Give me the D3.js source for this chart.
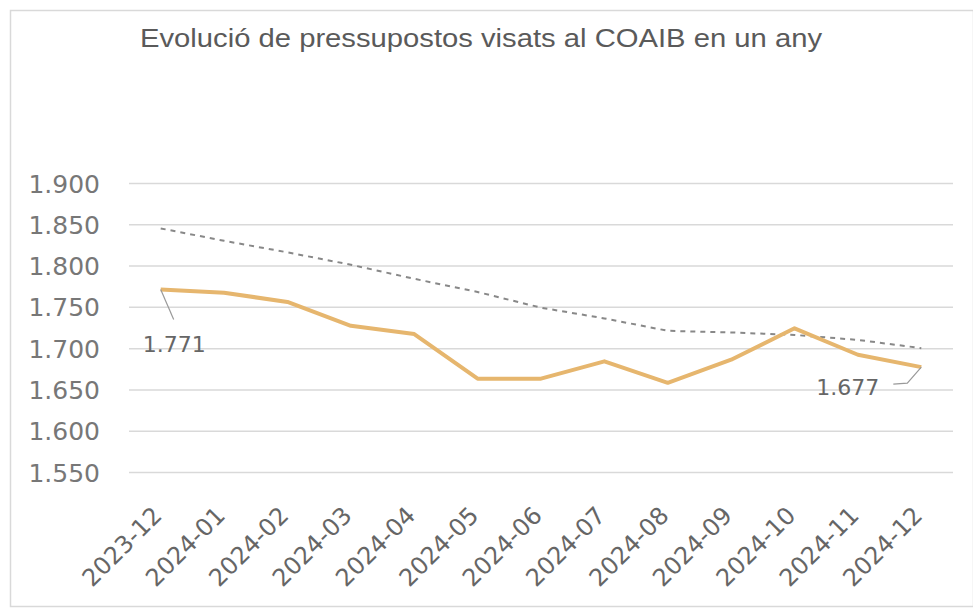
<!DOCTYPE html>
<html>
<head>
<meta charset="utf-8">
<script src="https://cdn.jsdelivr.net/npm/d3@7"></script>
<style>
  body { margin: 0; background: #fff; }
  text { font-family: "DejaVu Sans", sans-serif; }
</style>
</head>
<body>
<div id="chart"></div>
<script>
const width = 973
const height = 611

// data
const months = ['2023-12', '2024-01', '2024-02', '2024-03', '2024-04', '2024-05', '2024-06',
  '2024-07', '2024-08', '2024-09', '2024-10', '2024-11', '2024-12']
const visats = [1.771, 1.767, 1.756, 1.727, 1.717, 1.663, 1.663, 1.684, 1.658, 1.686, 1.724, 1.692, 1.677]
const trend = [1.845, 1.830, 1.816, 1.801, 1.784, 1.768, 1.749, 1.736, 1.721, 1.719, 1.716, 1.710, 1.700]
const yTicks = [1.55, 1.6, 1.65, 1.7, 1.75, 1.8, 1.85, 1.9]
const title = 'Evolució de pressupostos visats al COAIB en un any'

const margin = { left: 129, right: 20, top: 183, bottom: 139 }

const svg = d3.select('#chart')
  .append('svg')
  .attr('width', width)
  .attr('height', height)

// outer frame
svg.append('rect')
  .attr('x', 10.5).attr('y', 10.5)
  .attr('width', width - 10).attr('height', 596)
  .attr('fill', 'none')
  .attr('stroke', '#d9d9d9')
  .attr('stroke-width', 1.5)

const x = d3.scalePoint()
  .domain(months)
  .range([margin.left, width - margin.right])
  .padding(0.5)

const y = d3.scaleLinear()
  .domain([1.55, 1.9])
  .range([height - margin.bottom, margin.top])

svg.append('text')
  .attr('x', 140)
  .attr('y', 47)
  .attr('textLength', 682)
  .attr('lengthAdjust', 'spacingAndGlyphs')
  .style('font-family', '"Liberation Sans", sans-serif')
  .style('font-size', '25px')
  .attr('fill', '#5a5a5a')
  .text(title)

// grid + y labels
const yAxis = svg.append('g')
  .attr('transform', `translate(${margin.left},0)`)
  .call(d3.axisLeft(y)
    .tickValues(yTicks)
    .tickSize(-(width - margin.left - margin.right))
    .tickPadding(29)
    .tickFormat(d => d3.format('.3f')(d)))
yAxis.select('.domain').remove()
yAxis.selectAll('.tick line')
  .attr('stroke', '#d9d9d9')
  .attr('stroke-width', 1.5)
yAxis.selectAll('.tick text')
  .attr('fill', '#777')
  .style('font-size', '25px')
  .attr('dy', '0.36em')

// x labels
const xAxis = svg.append('g')
  .attr('transform', `translate(0,${height - margin.bottom})`)
  .call(d3.axisBottom(x).tickSize(0).tickPadding(0))
xAxis.select('.domain').remove()
xAxis.selectAll('.tick text')
  .attr('fill', '#666')
  .style('font-size', '24px')
  .attr('text-anchor', 'end')
  .attr('dy', 0)
  .attr('transform', 'translate(2,45) rotate(-45)')

// trend line (dashed)
const line = d3.line()
  .x((d, i) => x(months[i]))
  .y(d => y(d))

svg.append('path')
  .datum(trend)
  .attr('d', line)
  .attr('fill', 'none')
  .attr('stroke', '#888')
  .attr('stroke-width', 2)
  .attr('stroke-dasharray', '5,5')

svg.append('path')
  .datum(visats)
  .attr('d', line)
  .attr('fill', 'none')
  .attr('stroke', '#e6b66e')
  .attr('stroke-width', 4)
  .attr('stroke-linejoin', 'round')

// data labels with leader lines
const first = { x: x(months[0]), y: y(visats[0]) }
const last = { x: x(months[12]), y: y(visats[12]) }

svg.append('path')
  .attr('d', `M${first.x},${first.y} L${first.x + 13},${first.y + 30}`)
  .attr('stroke', '#999').attr('stroke-width', 1.2).attr('fill', 'none')
svg.append('text')
  .attr('x', first.x - 18)
  .attr('y', first.y + 62)
  .attr('fill', '#666')
  .style('font-size', '22px')
  .text(d3.format('.3f')(visats[0]))

svg.append('path')
  .attr('d', `M${last.x},${last.y} L${last.x - 14},${last.y + 16} L${last.x - 28},${last.y + 17}`)
  .attr('stroke', '#999').attr('stroke-width', 1.2).attr('fill', 'none')
svg.append('text')
  .attr('x', last.x - 42)
  .attr('y', last.y + 28)
  .attr('text-anchor', 'end')
  .attr('fill', '#666')
  .style('font-size', '22px')
  .text(d3.format('.3f')(visats[12]))
</script>
</body>
</html>
